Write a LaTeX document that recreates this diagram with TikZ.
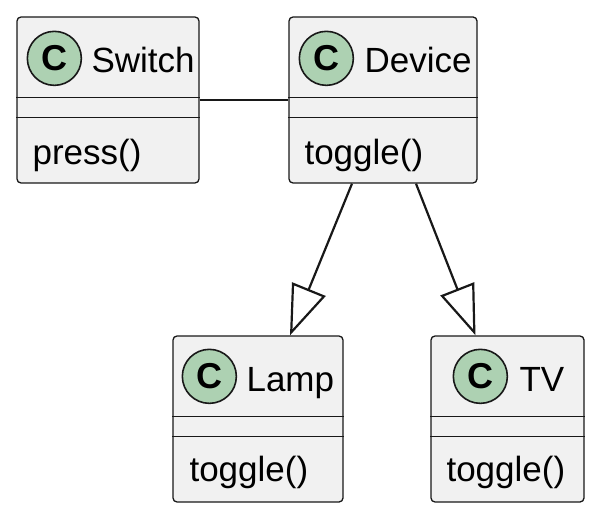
\documentclass[tikz,border=0pt]{standalone}
\usepackage{fontspec}
\setmainfont{Liberation Sans}
\usetikzlibrary{arrows.meta, positioning, calc}

\begin{document}
\begin{tikzpicture}[x=1pt, y=-1pt,
  classbox/.style={draw=classline, fill=classfill, line width=1.3pt, rounded corners=4pt, minimum height=166pt, inner sep=0pt},
  spot/.style={circle, draw=classline, fill=spotgreen, line width=1.6pt, minimum size=54pt, inner sep=0pt, font=\fontsize{36}{36}\selectfont\bfseries},
  title/.style={anchor=base west, inner sep=0pt, font=\fontsize{35}{35}\selectfont},
  member/.style={anchor=base west, inner sep=0pt, font=\fontsize{35}{35}\selectfont},
  sepline/.style={draw=classline, line width=1.3pt},
  link/.style={draw=classline, line width=2.2pt},
  extends/.style={link, -{Triangle[open, length=50pt, width=36pt]}}]

  % Define colors for the class boxes
  \definecolor{classfill}{HTML}{F1F1F1}
  \definecolor{classline}{HTML}{181818}
  \definecolor{spotgreen}{HTML}{ADD1B2}

  % Define constants
  \def\headh{81}   % header height
  \def\attrh{101}  % bottom of the empty attribute section

  % Fix the page size
  \useasboundingbox (0,0) rectangle (600,516);

  % Switch class
  \node[classbox, minimum width=182pt] (sw) at (108,100) {};
  \draw[sepline] ($(sw.north west)+(0,\headh)$) -- ($(sw.north east)+(0,\headh)$);
  \draw[sepline] ($(sw.north west)+(0,\attrh)$) -- ($(sw.north east)+(0,\attrh)$);
  \node[spot] (swspot) at ($(sw.north west)+(38,42)$) {C};
  \node[title] (swname) at ($(sw.north west)+(75,56)$) {Switch};
  \node[member] (swpress) at ($(sw.north west)+(16,148)$) {press()};

  % Device class
  \node[classbox, minimum width=188pt] (dev) at (383,100) {};
  \draw[sepline] ($(dev.north west)+(0,\headh)$) -- ($(dev.north east)+(0,\headh)$);
  \draw[sepline] ($(dev.north west)+(0,\attrh)$) -- ($(dev.north east)+(0,\attrh)$);
  \node[spot] (devspot) at ($(dev.north west)+(38,42)$) {C};
  \node[title] (devname) at ($(dev.north west)+(76,56)$) {Device};
  \node[member] (devtoggle) at ($(dev.north west)+(16,148)$) {toggle()};

  % Lamp class
  \node[classbox, minimum width=170pt] (lamp) at (258,419) {};
  \draw[sepline] ($(lamp.north west)+(0,\headh)$) -- ($(lamp.north east)+(0,\headh)$);
  \draw[sepline] ($(lamp.north west)+(0,\attrh)$) -- ($(lamp.north east)+(0,\attrh)$);
  \node[spot] (lampspot) at ($(lamp.north west)+(37,41)$) {C};
  \node[title] (lampname) at ($(lamp.north west)+(74,56)$) {Lamp};
  \node[member] (lamptoggle) at ($(lamp.north west)+(17,146)$) {toggle()};

  % TV class
  \node[classbox, minimum width=153pt] (tv) at (507.5,419) {};
  \draw[sepline] ($(tv.north west)+(0,\headh)$) -- ($(tv.north east)+(0,\headh)$);
  \draw[sepline] ($(tv.north west)+(0,\attrh)$) -- ($(tv.north east)+(0,\attrh)$);
  \node[spot] (tvspot) at ($(tv.north west)+(50,41)$) {C};
  \node[title] (tvname) at ($(tv.north west)+(89,56)$) {TV};
  \node[member] (tvtoggle) at ($(tv.north west)+(16,146)$) {toggle()};

  % Association and generalisations
  \draw[link] (sw) -- (dev);
  \draw[extends] ([xshift=-31pt]dev.south) -- ([xshift=32pt]lamp.north);
  \draw[extends] ([xshift=33pt]dev.south) -- ([xshift=-32pt]tv.north);

\end{tikzpicture}
\end{document}
